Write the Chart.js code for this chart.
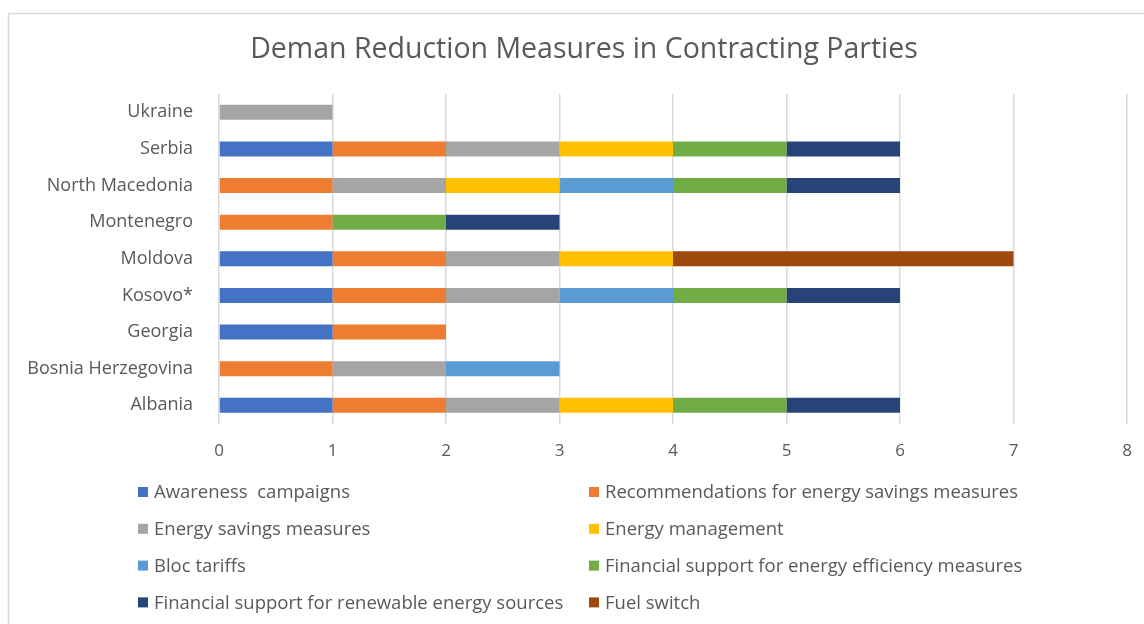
<!DOCTYPE html>
<html>
<head>
<meta charset="utf-8">
<script src="https://cdn.jsdelivr.net/npm/chart.js@4.4.1/dist/chart.umd.min.js"></script>
<style>
  html, body { margin: 0; padding: 0; background: #fff; overflow: hidden; }
  #wrap { position: relative; width: 1144px; height: 624px; }
</style>
</head>
<body>
<div id="wrap"><canvas id="chart" width="1144" height="624"></canvas></div>
<script>
// Data
const countries = ["Ukraine", "Serbia", "North Macedonia", "Montenegro", "Moldova", "Kosovo*", "Georgia", "Bosnia Herzegovina", "Albania"];
const awareness       = [0, 1, 0, 0, 1, 1, 1, 0, 1];
const recommendations = [0, 1, 1, 1, 1, 1, 1, 1, 1];
const savings         = [1, 1, 1, 0, 1, 1, 0, 1, 1];
const management      = [0, 1, 1, 0, 1, 0, 0, 0, 1];
const blocTariffs     = [0, 0, 1, 0, 0, 1, 0, 1, 0];
const supportEE       = [0, 1, 1, 1, 0, 1, 0, 0, 1];
const supportRES      = [0, 1, 1, 1, 0, 1, 0, 0, 1];
const fuelSwitch      = [0, 0, 0, 0, 3, 0, 0, 0, 0];
const xTicks = [0, 1, 2, 3, 4, 5, 6, 7, 8];

const seriesNames = [
  "Awareness  campaigns",
  "Recommendations for energy savings measures",
  "Energy savings measures",
  "Energy management",
  "Bloc tariffs",
  "Financial support for energy efficiency measures",
  "Financial support for renewable energy sources",
  "Fuel switch"
];
const seriesData = [awareness, recommendations, savings, management, blocTariffs, supportEE, supportRES, fuelSwitch];
const colors = ["#4472C4", "#ED7D31", "#A5A5A5", "#FFC000", "#5B9BD5", "#70AD47", "#264478", "#9E480E"];
const chartTitle = "Deman Reduction Measures in Contracting Parties";

const FONT = "'Open Sans', sans-serif";
const GREY = "#595959";

// cadre gris, titre + légende sur deux colonnes
const frameAndLegend = {
  id: "frameAndLegend",
  beforeDraw(chart) {
    const ctx = chart.ctx;
    ctx.save();
    ctx.strokeStyle = "#d9d9d9";
    ctx.lineWidth = 1.5;
    ctx.strokeRect(8.5, 13.5, 1300, 800);
    ctx.restore();
  },
  afterDraw(chart) {
    const ctx = chart.ctx;
    ctx.save();
    ctx.font = "28.5px " + FONT;
    ctx.textAlign = "center";
    ctx.textBaseline = "middle";
    ctx.fillStyle = GREY;
    ctx.fillText(chartTitle, 584, 50);

    ctx.textAlign = "left";
    ctx.font = "18.5px " + FONT;
    chart.data.datasets.forEach(function(ds, i){
      const col = i % 2, row = Math.floor(i / 2);
      const x = col === 0 ? 138 : 589;
      const y = 492 + row * 36.8;
      ctx.fillStyle = ds.backgroundColor;
      ctx.fillRect(x, y - 5, 10, 10);
      ctx.fillStyle = GREY;
      ctx.fillText(ds.label, x + 16, y + 1);
    });
    ctx.restore();
  }
};

new Chart(document.getElementById("chart"), {
  type: "bar",
  data: {
    labels: countries,
    datasets: seriesNames.map(function(name, i){
      return {
        label: name,
        data: seriesData[i],
        backgroundColor: colors[i],
        borderWidth: 0,
        categoryPercentage: 0.41,
        barPercentage: 1
      };
    })
  },
  options: {
    indexAxis: "y",
    responsive: false,
    animation: false,
    layout: { padding: { left: 10, right: 17, top: 94, bottom: 146 } },
    plugins: {
      legend: { display: false },
      tooltip: { enabled: false },
      title: { display: false }
    },
    scales: {
      x: {
        stacked: true,
        min: 0,
        max: 8,
        afterBuildTicks(s){ s.ticks = xTicks.map(v => ({ value: v })); },
        afterFit(s){ s.paddingLeft = 0; s.paddingRight = 0; },
        grid: { color: "#d9d9d9", lineWidth: 1.5, drawTicks: false },
        border: { display: false },
        ticks: { color: GREY, font: { family: FONT, size: 17 }, padding: 17 }
      },
      y: {
        stacked: true,
        afterFit(s){ s.width = 219 - 10; },
        grid: { display: false },
        border: { display: false },
        ticks: { color: GREY, font: { family: FONT, size: 18 }, padding: 18 }
      }
    }
  },
  plugins: [frameAndLegend]
});
</script>
</body>
</html>
